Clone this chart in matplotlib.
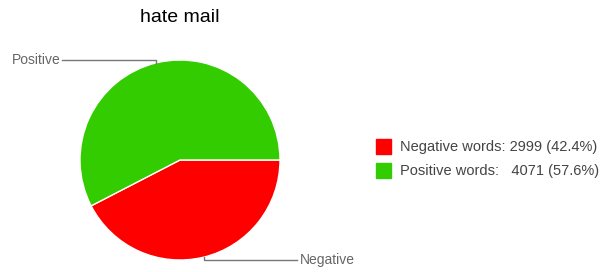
import numpy as np
import matplotlib.pyplot as plt

plt.rcParams['font.family'] = ['Liberation Sans', 'DejaVu Sans']

title = 'hate mail'
labels = ['Negative', 'Positive']
counts = [2999, 4071]
legend_names = ['Negative words:', 'Positive words:  ']
colors = ['#ff0000', '#33cc00']

W, H = 600, 272
fig = plt.figure(figsize=(W / 100, H / 100), dpi=100)
ax = fig.add_axes([0, 0, 1, 1])

# work in pixel units, y measured from the bottom
cx, cy, r = 180, H - 160, 100
wedges, _ = ax.pie(counts, colors=colors, startangle=0, counterclock=False,
                   center=(cx, cy), radius=r,
                   wedgeprops=dict(edgecolor='white', linewidth=1))
ax.set_xlim(0, W)
ax.set_ylim(0, H)
ax.set_aspect('equal')
ax.axis('off')

ax.text(cx, H - 18, title, fontsize=14, ha='center', va='center', color='#000000')

# leader lines from each slice middle
for w, lab in zip(wedges, labels):
    mid = np.deg2rad((w.theta1 + w.theta2) / 2)
    x0, y0 = cx + r * np.cos(mid), cy + r * np.sin(mid)
    y1 = y0 + 2.5 * np.sign(np.sin(mid))
    if np.cos(mid) >= 0:
        x2 = x0 + 93
        ax.plot([x0, x0, x2], [y0, y1, y1], color='#777777', lw=1)
        ax.text(x2 + 3, y1, lab, fontsize=10, ha='left', va='center', color='#666666')
    else:
        x2 = x0 - 94
        ax.plot([x0, x0, x2], [y0, y1, y1], color='#777777', lw=1)
        ax.text(x2 - 2, y1, lab, fontsize=10, ha='right', va='center', color='#666666')

total = sum(counts)
for i, (name, n, c) in enumerate(zip(legend_names, counts, colors)):
    yy = H - (146.5 + i * 24)
    ax.add_patch(plt.Rectangle((376, yy - 7), 15, 15, color=c))
    ax.text(400, yy, '%s %d (%.1f%%)' % (name, n, 100.0 * n / total),
            fontsize=10.5, ha='left', va='center', color='#444444')

fig.savefig('out.png', dpi=100)
